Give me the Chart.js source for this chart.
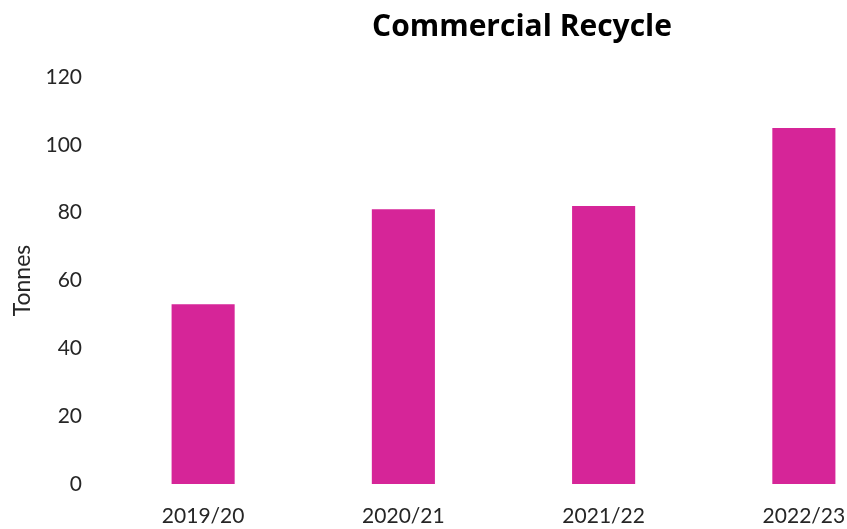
<!DOCTYPE html>
<html>
<head>
<meta charset="utf-8">
<script src="https://cdn.jsdelivr.net/npm/chart.js@4"></script>
<style>
html,body{margin:0;padding:0;overflow:hidden;background:#fff;}
#wrap{width:904px;height:529px;position:relative;}
</style>
</head>
<body>
<div id="wrap"><canvas id="c"></canvas></div>
<script>
const categories = ['2019/20', '2020/21', '2021/22', '2022/23'];
const tonnes = [53, 81, 82, 105];
const chartTitle = 'Commercial Recycle';
const yTitle = 'Tonnes';

// The original chart's title is centred on a wider frame than the visible crop.
const titleCentre = {
  id: 'titleCentre',
  afterLayout(chart) {
    const t = chart.titleBlock;
    if (t) { t.left = 0; t.right = 1044; t.width = 1044; }
  }
};

new Chart(document.getElementById('c'), {
  type: 'bar',
  data: {
    labels: categories,
    datasets: [{
      label: yTitle,
      data: tonnes,
      backgroundColor: '#D62598',
      borderWidth: 0,
      categoryPercentage: 1,
      barPercentage: 0.315
    }]
  },
  options: {
    responsive: true,
    maintainAspectRatio: false,
    animation: false,
    layout: { padding: { top: 9, right: 0, bottom: 0, left: 0 } },
    plugins: {
      legend: { display: false },
      tooltip: { enabled: false },
      title: {
        display: true,
        text: chartTitle,
        color: '#000',
        font: { family: 'Open Sans', size: 30, weight: 'bold' },
        padding: { top: 0, bottom: 32 }
      }
    },
    scales: {
      x: {
        grid: { display: false, drawTicks: false },
        border: { display: false },
        ticks: { color: '#262626', font: { family: 'Lato', size: 21 }, padding: 20 },
        afterFit: s => { s.height = 45; }
      },
      y: {
        min: 0, max: 120,
        grid: { display: false, drawTicks: false },
        border: { display: false },
        ticks: { stepSize: 20, color: '#262626', font: { family: 'Lato', size: 21 }, padding: 21 },
        title: { display: true, text: yTitle, color: '#262626', font: { family: 'Lato', size: 23 }, padding: { top: 9, bottom: 0 } },
        afterFit: s => { s.width = 103; }
      }
    }
  },
  plugins: [titleCentre]
});
</script>
</body>
</html>
